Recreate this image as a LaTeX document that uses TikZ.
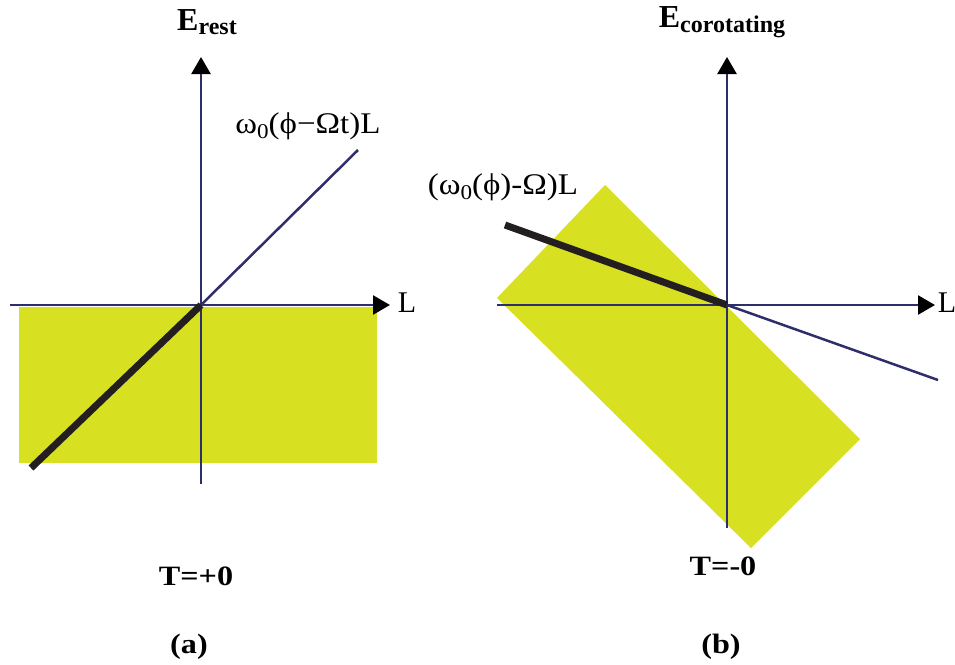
\documentclass[tikz,border=0pt]{standalone}
\usepackage{fontspec}
\setmainfont{Liberation Serif}
\usetikzlibrary{arrows.meta}
\definecolor{ylw}{RGB}{216,224,34}
\definecolor{navy}{RGB}{46,46,106}
\definecolor{blk}{RGB}{35,31,32}
\tikzset{
  axis/.style={draw=navy, line width=2.5pt, -{Triangle[length=17pt,width=19pt,color=black,fill=black]}},
  thinln/.style={draw=navy, line width=2.5pt},
  thickln/.style={draw=blk, line width=7pt},
  region/.style={fill=ylw, draw=none},
  lbl/.style={font=\fontsize{30}{32}\selectfont, inner sep=0pt},
  ttl/.style={font=\fontsize{28}{30}\selectfont\bfseries, inner sep=0pt},
  hdr/.style={font=\fontsize{32}{34}\selectfont\bfseries, inner sep=0pt},
}
\newcommand{\subz}{\raisebox{-0.35ex}{\fontsize{21}{21}\selectfont 0}}
\newcommand{\subt}[1]{\raisebox{-0.3ex}{\fontsize{24}{24}\selectfont #1}}
\newcommand{\wide}[1]{\scalebox{1.1}[1]{#1}}
\newcommand{\wider}[1]{\scalebox{1.15}[1]{#1}}
\begin{document}
\begin{tikzpicture}[x=1pt,y=-1pt]
\useasboundingbox (0,0) rectangle (955,664);
% ---------- panel (a)
\coordinate (oa) at (201,305);
\coordinate (ax) at (390,305);
\coordinate (axl) at (10,305);
\coordinate (ay) at (201,57);
\coordinate (ayb) at (201,484);
\coordinate (ad) at (358,150);
\coordinate (at) at (31,468);
\fill[region] (19,307) rectangle (377,463);
\draw[axis] (axl) -- (ax);
\draw[axis] (ayb) -- (ay);
\draw[thinln] (oa) -- (ad);
\draw[thickln] (oa) -- (at);
\node[hdr] (erest) at (207,22) {E\subt{rest}};
\node[lbl] (la) at (308,126) {\wide{ω\subz(ϕ−Ωt)L}};
\node[lbl] (Lla) at (407,303) {L};
\node[ttl] (Ta) at (196,576) {\wider{T=+0}};
\node[ttl] (capa) at (189,647) {\wider{(a)}};
% ---------- panel (b)
\coordinate (ob) at (727,305);
\coordinate (bx) at (935,305);
\coordinate (bxl) at (497,305);
\coordinate (by) at (727,57);
\coordinate (byb) at (727,528);
\coordinate (bd) at (938,380);
\coordinate (bt) at (505,225);
\fill[region] (497,298) -- (605,185) -- (860,439) -- (751,548) -- cycle;
\draw[axis] (bxl) -- (bx);
\draw[axis] (byb) -- (by);
\draw[thinln] (ob) -- (bd);
\draw[thickln] (ob) -- (bt);
\node[hdr] (ecor) at (722,22) {E\subt{corotating}};
\node[lbl] (lb) at (503,187) {\wide{(ω\subz(ϕ)-Ω)L}};
\node[lbl] (Llb) at (947,303) {L};
\node[ttl] (Tb) at (723,566) {\wider{T=-0}};
\node[ttl] (capb) at (721,647) {\wider{(b)}};
\end{tikzpicture}
\end{document}
